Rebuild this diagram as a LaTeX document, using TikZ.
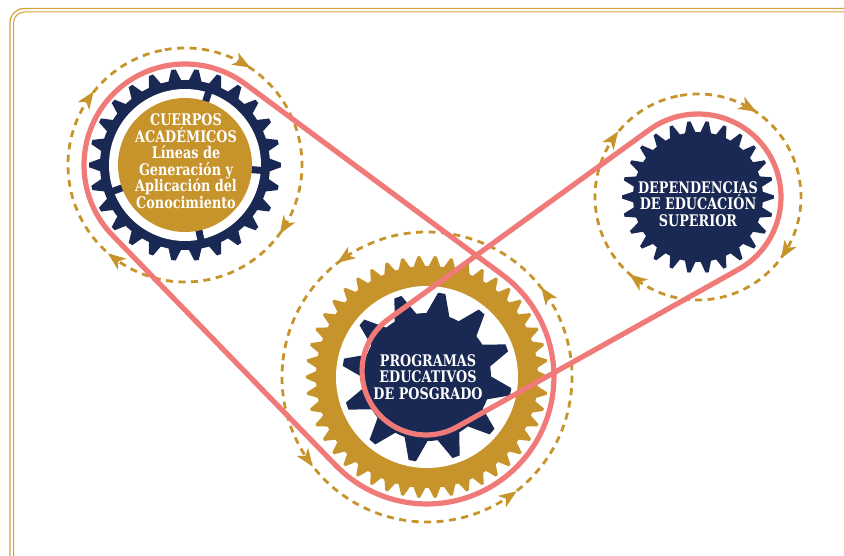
\documentclass[tikz,border=0pt]{standalone}
\usepackage{fontspec}
\newfontfamily\gearfont[FakeStretch=0.8]{DejaVu Serif}
\usetikzlibrary{decorations.markings}
\definecolor{navy}{RGB}{26,41,84}
\definecolor{gold}{RGB}{199,148,44}
\definecolor{beltpink}{RGB}{240,122,120}
\definecolor{framegold}{RGB}{214,162,62}
\begin{document}
\begin{tikzpicture}[x=1pt,y=-1pt,
  beltline/.style={draw=beltpink,line width=5.2pt,line join=round},
  dashring/.style={draw=gold,line width=2.8pt,dash pattern=on 7pt off 5.5pt},
  ringhead/.style={fill=gold,draw=none},
  ringarrows/.style n args={4}{postaction={decorate,decoration={markings,
     mark=at position #1 with {\fill[ringhead] (8,0) -- (-10,-7) -- (-5,0) -- (-10,7) -- cycle;},
     mark=at position #2 with {\fill[ringhead] (8,0) -- (-10,-7) -- (-5,0) -- (-10,7) -- cycle;},
     mark=at position #3 with {\fill[ringhead] (8,0) -- (-10,-7) -- (-5,0) -- (-10,7) -- cycle;},
     mark=at position #4 with {\fill[ringhead] (8,0) -- (-10,-7) -- (-5,0) -- (-10,7) -- cycle;}}}},
  gtext/.style={text=white,align=center,inner sep=0pt,
     font=\gearfont\bfseries\fontsize{16}{16.5}\selectfont},
  framebox/.style={draw=framegold}
]
\useasboundingbox (0,0) rectangle (844,556);
\fill[white] (0,0) rectangle (844,556);

% frame
\draw[framebox,line width=1.2pt,rounded corners=14pt] (10,8.5) rectangle (880,590);
\draw[framebox,line width=1pt,rounded corners=11pt] (13.5,12) rectangle (876,586);

% gear 1: Cuerpos academicos
\begin{scope}[shift={(185,165)}]
  \fill[navy] (-4.6:84) \foreach \i in {0,...,25}{
     -- ({\i*360/26-4.6}:84) -- ({\i*360/26-1.3}:96)
     -- ({\i*360/26+1.3}:96) -- ({\i*360/26+4.6}:84)} -- cycle;
  \fill[navy] (0,0) circle[radius=85];
  \fill[white] (0,0) circle[radius=76];
  \foreach \a in {-72,4,78,160} \draw[navy,line width=7pt] (\a:64) -- (\a:78);
  \fill[gold] (0,0) circle[radius=67];
\end{scope}

% gear 2: Dependencias
\begin{scope}[shift={(698,197)}]
  \fill[navy] (-5:64) \foreach \i in {0,...,25}{
     -- ({\i*360/26-5}:64) -- ({\i*360/26-1.2}:76)
     -- ({\i*360/26+1.2}:76) -- ({\i*360/26+5}:64)} -- cycle;
  \fill[navy] (0,0) circle[radius=65];
\end{scope}

% gear 3: Programas
\begin{scope}[shift={(427,377)}]
  \fill[gold] (-3.3:110) \foreach \i in {0,...,45}{
     -- ({\i*360/46-3.3}:110) -- ({\i*360/46-0.6}:121)
     -- ({\i*360/46+0.6}:121) -- ({\i*360/46+3.3}:110)} -- cycle;
  \fill[gold] (0,0) circle[radius=111];
  \fill[white] (0,0) circle[radius=91];
  \fill[navy] (-1:63) \foreach \i in {0,...,11}{
     -- ({\i*30+10-11}:63) -- ({\i*30+10-2.5}:85)
     -- ({\i*30+10+2.5}:85) -- ({\i*30+10+11}:63)} -- cycle;
  \fill[navy] (0,0) circle[radius=64];
\end{scope}

% dashed rotation rings
\draw[dashring,ringarrows={0.111}{0.367}{0.631}{0.875}]
  (185,165) ++(-100:117) arc[start angle=-100,end angle=260,radius=117];
\draw[dashring,ringarrows={0.111}{0.367}{0.631}{0.875}]
  (698,197) ++(-100:103) arc[start angle=-100,end angle=260,radius=103];
\draw[dashring,ringarrows={0.111}{0.361}{0.611}{0.861}]
  (427,377) ++(185:145) arc[start angle=185,end angle=-175,radius=145];

% belts
\coordinate (b1a) at (112.5,235.3);
\coordinate (b1b) at (335.8,465.4);
\draw[beltline] (185,165) ++(-53.42:101)
  arc[start angle=-53.42,end angle=-224.14,radius=101] -- (b1b)
  arc[start angle=135.86,end angle=-53.42,radius=127] -- cycle;
\coordinate (b2a) at (738.5,269.4);
\coordinate (b2b) at (457.3,426.8);
\draw[beltline] (698,197) ++(-125.98:83)
  arc[start angle=-125.98,end angle=60.76,radius=83] -- (b2b)
  arc[start angle=60.76,end angle=234.02,radius=64] -- cycle;

% texts
\node[gtext] (cuerpos) at (186,161) {CUERPOS\\ACADÉMICOS\\Líneas de\\Generación y\\Aplicación del\\Conocimiento};
\node[gtext] (dependencias) at (698,204) {DEPENDENCIAS\\DE EDUCACIÓN\\SUPERIOR};
\node[gtext] (programas) at (428,377) {PROGRAMAS\\EDUCATIVOS\\DE POSGRADO};
\end{tikzpicture}
\end{document}
